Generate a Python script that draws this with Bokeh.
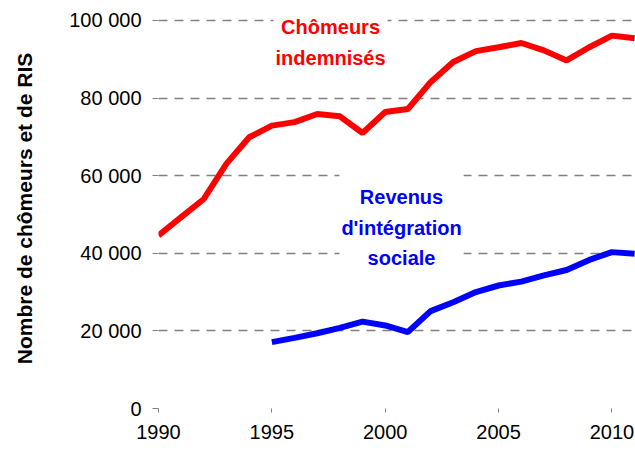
from bokeh.plotting import figure
from bokeh.models import Label, Range1d, FixedTicker
from bokeh.embed import file_html
from bokeh.resources import INLINE

# ---- data ----
years_chomeurs = [1990, 1991, 1992, 1993, 1994, 1995, 1996, 1997, 1998, 1999, 2000,
                  2001, 2002, 2003, 2004, 2005, 2006, 2007, 2008, 2009, 2010, 2011]
chomeurs = [44600, 49300, 54000, 63100, 69900, 72900, 73800, 75900, 75300, 71000, 76400,
            77200, 84100, 89300, 92100, 93100, 94200, 92300, 89700, 93100, 96100, 95400]

years_ris = [1995, 1996, 1997, 1998, 1999, 2000, 2001, 2002, 2003, 2004, 2005,
             2006, 2007, 2008, 2009, 2010, 2011]
ris = [17100, 18200, 19400, 20800, 22400, 21400, 19700, 25100, 27400, 30000, 31700,
       32700, 34300, 35700, 38300, 40300, 39900]

x_ticks = [1990, 1995, 2000, 2005, 2010]
y_ticks = [0, 20000, 40000, 60000, 80000, 100000]
y_tick_labels = ["0", "20 000", "40 000", "60 000", "80 000", "100 000"]

label_chomeurs = "Chômeurs\nindemnisés"
label_ris = "Revenus\nd'intégration\nsociale"
y_title = "Nombre de chômeurs et de RIS"

FONT = "Liberation Sans"
GRAY = "#808080"

p = figure(width=635, height=450, output_backend="svg", toolbar_location=None,
           x_range=Range1d(1990, 2011.04), y_range=Range1d(0, 103090),
           min_border_left=158, min_border_right=0, min_border_top=8, min_border_bottom=42)
p.outline_line_color = None
p.xgrid.grid_line_color = None
p.ygrid.grid_line_color = GRAY
p.ygrid.grid_line_dash = "9 7"
p.ygrid.grid_line_width = 1.3
p.ygrid.ticker = FixedTicker(ticks=y_ticks)

p.xaxis.ticker = FixedTicker(ticks=x_ticks)
p.yaxis.ticker = FixedTicker(ticks=y_ticks)
p.yaxis.major_label_overrides = {t: l for t, l in zip(y_ticks, y_tick_labels)}

for ax in (p.xaxis[0], p.yaxis[0]):
    ax.axis_line_color = None
    ax.major_tick_line_color = GRAY
    ax.major_tick_in = 0
    ax.minor_tick_line_color = None
    ax.major_label_text_font = FONT
    ax.major_label_text_font_size = "20px"
    ax.major_label_text_color = "black"

p.xaxis.major_tick_out = 4
p.xaxis.major_label_standoff = 12
p.yaxis.major_tick_out = 6
p.yaxis.major_label_standoff = 11

p.yaxis.axis_label = y_title
p.yaxis.axis_label_text_font = FONT
p.yaxis.axis_label_text_font_size = "21px"
p.yaxis.axis_label_text_font_style = "bold"
p.yaxis.axis_label_text_color = "black"
p.yaxis.axis_label_standoff = 30

p.line(years_chomeurs, chomeurs, line_color="#FF0000", line_width=6)
p.line(years_ris, ris, line_color="#0000FF", line_width=6)

p.add_layout(Label(x=1997.59, y=94300, text=label_chomeurs, text_align="center",
                   text_baseline="middle", text_font=FONT, text_font_size="20px",
                   text_font_style="bold", text_color="#FF0000", text_line_height=1.4,
                   background_fill_color="white", padding=(2, 17)))
p.add_layout(Label(x=2000.72, y=46600, text=label_ris, text_align="center",
                   text_baseline="middle", text_font=FONT, text_font_size="20px",
                   text_font_style="bold", text_color="#0000FF", text_line_height=1.4,
                   background_fill_color="white", padding=(2, 16)))

open("out.html", "w").write(file_html(p, INLINE))
